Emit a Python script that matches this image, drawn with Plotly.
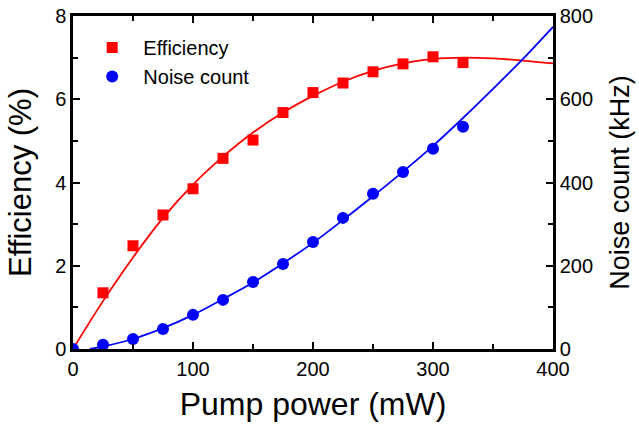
import plotly.graph_objects as go

# measured points
power = [25, 50, 75, 100, 125, 150, 175, 200, 225, 250, 275, 300, 325]
efficiency = [1.35, 2.48, 3.22, 3.85, 4.58, 5.02, 5.68, 6.16, 6.39, 6.66, 6.85, 7.02, 6.88]
noise_power = [0, 25, 50, 75, 100, 125, 150, 175, 200, 225, 250, 275, 300, 325]
noise = [0, 10, 24, 48, 82, 118, 161, 204, 257, 315, 373, 425, 481, 534]

# fitted curves
fit_power = [0, 25, 50, 75, 100, 125, 150, 175, 200, 225, 250, 275, 300, 325, 350, 375, 400]
eff_fit = [0, 1.15, 2.2, 3.15, 3.95, 4.62, 5.2, 5.68, 6.08, 6.42, 6.68, 6.86, 6.97, 7.0, 6.98, 6.93, 6.86]
noise_fit_power = [14, 25, 50, 75, 100, 125, 150, 175, 200, 225, 250, 275, 300, 325, 350, 375, 400]
noise_fit = [0, 6, 24, 50, 82, 120, 160, 206, 255, 310, 367, 426, 488, 555, 625, 697, 774]

RED = '#ff0000'
BLUE = '#0000ff'
FONT = 'Liberation Sans, Arial, sans-serif'
PAD = '\u00a0\u00a0'  # small gap between legend symbol and text

fig = go.Figure()
fig.add_trace(go.Scatter(x=fit_power, y=eff_fit, mode='lines', line=dict(color=RED, width=1.8, shape='spline'),
                         showlegend=False, hoverinfo='skip'))
fig.add_trace(go.Scatter(x=noise_fit_power, y=noise_fit, mode='lines', yaxis='y2',
                         line=dict(color=BLUE, width=1.8, shape='spline'), showlegend=False, hoverinfo='skip'))
fig.add_trace(go.Scatter(x=power, y=efficiency, mode='markers', name=PAD + 'Efficiency',
                         marker=dict(symbol='square', size=11, color=RED)))
fig.add_trace(go.Scatter(x=noise_power, y=noise, mode='markers', name=PAD + 'Noise count', yaxis='y2',
                         marker=dict(symbol='circle', size=12, color=BLUE)))

axis_common = dict(showline=True, linecolor='black', linewidth=2.5, ticks='inside', tickcolor='black',
                   tickwidth=2, ticklen=7, showgrid=False, zeroline=False, automargin=False,
                   tickfont=dict(family=FONT, size=20, color='black'))

fig.update_layout(
    width=639, height=424,
    margin=dict(l=73, r=86, t=16, b=75),
    plot_bgcolor='white', paper_bgcolor='white',
    font=dict(family=FONT, color='black'),
    xaxis=dict(range=[0, 400], dtick=100, mirror='ticks',
               minor=dict(dtick=50, ticks='inside', ticklen=5, tickwidth=2, tickcolor='black'),
               title=dict(text='Pump power (mW)', font=dict(size=32), standoff=14), **axis_common),
    yaxis=dict(range=[0, 8], dtick=2,
               minor=dict(dtick=1, ticks='inside', ticklen=5, tickwidth=2, tickcolor='black'),
               title=dict(text='Efficiency (%)', font=dict(size=31), standoff=15), **axis_common),
    yaxis2=dict(range=[0, 800], dtick=200, overlaying='y', side='right',
                minor=dict(dtick=100, ticks='inside', ticklen=5, tickwidth=2, tickcolor='black'),
                title=dict(text='Noise count (kHz)', font=dict(size=27), standoff=18), **axis_common),
    legend=dict(x=0.04, y=0.964, xanchor='left', yanchor='top', bgcolor='rgba(0,0,0,0)',
                font=dict(family=FONT, size=20), tracegroupgap=0),
)

# drop the page's default body margin so the figure sits at the window corner
fig.write_html("out.html", config={'displayModeBar': False},
               post_script="document.body.style.margin='0';")
